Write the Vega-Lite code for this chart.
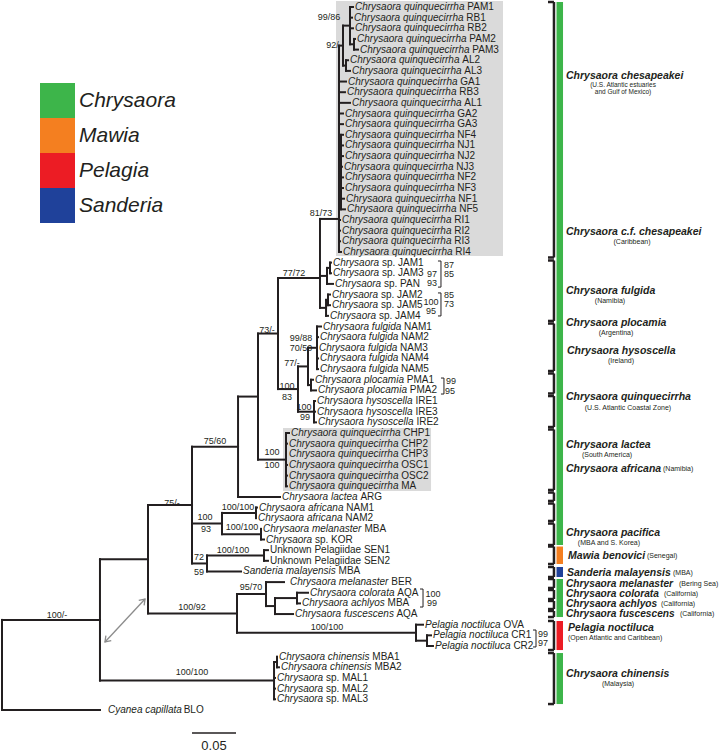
{
"$schema":"https://vega.github.io/schema/vega-lite/v6.json",
"width":720,"height":754,"autosize":"none","padding":0,"background":"white",
"config":{"view":{"stroke":null},"font":"Liberation Sans","text":{"font":"Liberation Sans","color":"#231f20","baseline":"middle"}},
"datasets":{
"boxes":[{"x":0.3818,"x2":0.5716,"y":-0.563,"y2":23.38},{"x":0.3216,"x2":0.4898,"y":39.53,"y2":45.45}],
"segs":[
{"x":0.0023,"x2":0.0023,"y":57.55,"y2":66},{"x":0.0023,"x2":0.1136,"y":57.55,"y2":57.55},{"x":0.0023,"x2":0.1136,"y":66,"y2":66},
{"x":0.1136,"x2":0.1136,"y":51.85,"y2":63.25},{"x":0.1136,"x2":0.1682,"y":51.85,"y2":51.85},{"x":0.1136,"x2":0.3114,"y":63.25,"y2":63.25},
{"x":0.3114,"x2":0.3114,"y":61.5,"y2":65},{"x":0.3114,"x2":0.3148,"y":61.5,"y2":61.5},{"x":0.3148,"x2":0.3148,"y":61,"y2":62},{"x":0.3148,"x2":0.3170,"y":62,"y2":62},
{"x":0.3114,"x2":0.3125,"y":63,"y2":63},{"x":0.3114,"x2":0.3125,"y":64,"y2":64},{"x":0.3114,"x2":0.3125,"y":65,"y2":65},
{"x":0.1682,"x2":0.1682,"y":46.77,"y2":56.94},{"x":0.1682,"x2":0.2693,"y":56.94,"y2":56.94},{"x":0.2693,"x2":0.2693,"y":55.125,"y2":58.75},
{"x":0.2693,"x2":0.3023,"y":55.125,"y2":55.125},{"x":0.3023,"x2":0.3023,"y":54,"y2":56.25},{"x":0.3023,"x2":0.3227,"y":54,"y2":54},
{"x":0.3023,"x2":0.3125,"y":56.25,"y2":56.25},{"x":0.3125,"x2":0.3125,"y":55.5,"y2":57},{"x":0.3125,"x2":0.3375,"y":55.5,"y2":55.5},
{"x":0.3375,"x2":0.3375,"y":55,"y2":56},{"x":0.3375,"x2":0.3500,"y":55,"y2":55},{"x":0.3375,"x2":0.3409,"y":56,"y2":56},{"x":0.3125,"x2":0.3330,"y":57,"y2":57},
{"x":0.2693,"x2":0.4727,"y":58.75,"y2":58.75},{"x":0.4727,"x2":0.4727,"y":58,"y2":59.5},{"x":0.4727,"x2":0.4807,"y":58,"y2":58},
{"x":0.4727,"x2":0.4852,"y":59.5,"y2":59.5},{"x":0.4852,"x2":0.4852,"y":59,"y2":60},{"x":0.4852,"x2":0.4898,"y":59,"y2":59},{"x":0.4852,"x2":0.4920,"y":60,"y2":60},
{"x":0.1682,"x2":0.2182,"y":46.77,"y2":46.77},{"x":0.2182,"x2":0.2182,"y":41.29,"y2":52.25},{"x":0.2182,"x2":0.2705,"y":41.29,"y2":41.29},
{"x":0.2182,"x2":0.2523,"y":48.5,"y2":48.5},{"x":0.2523,"x2":0.2523,"y":47.5,"y2":49.5},{"x":0.2523,"x2":0.2909,"y":47.5,"y2":47.5},
{"x":0.2909,"x2":0.2909,"y":47,"y2":48},{"x":0.2909,"x2":0.2920,"y":47,"y2":47},
{"x":0.2523,"x2":0.2966,"y":49.5,"y2":49.5},{"x":0.2966,"x2":0.2966,"y":49,"y2":50},{"x":0.2966,"x2":0.3000,"y":50,"y2":50},
{"x":0.2182,"x2":0.2352,"y":52.25,"y2":52.25},{"x":0.2352,"x2":0.2352,"y":51.5,"y2":53},{"x":0.2352,"x2":0.3000,"y":51.5,"y2":51.5},
{"x":0.3000,"x2":0.3000,"y":51,"y2":52},{"x":0.3000,"x2":0.3045,"y":51,"y2":51},{"x":0.3000,"x2":0.3045,"y":52,"y2":52},{"x":0.2352,"x2":0.2739,"y":53,"y2":53},
{"x":0.2705,"x2":0.2705,"y":36.58,"y2":46},{"x":0.2705,"x2":0.2932,"y":36.58,"y2":36.58},{"x":0.2705,"x2":0.3182,"y":46,"y2":46},
{"x":0.2932,"x2":0.2932,"y":30.66,"y2":42.5},{"x":0.2932,"x2":0.3250,"y":42.5,"y2":42.5},{"x":0.3250,"x2":0.3250,"y":40,"y2":45},
{"x":0.3250,"x2":0.3284,"y":40,"y2":40},{"x":0.3250,"x2":0.3261,"y":41,"y2":41},{"x":0.3250,"x2":0.3261,"y":43,"y2":43},{"x":0.3250,"x2":0.3261,"y":44,"y2":44},{"x":0.3250,"x2":0.3261,"y":45,"y2":45},
{"x":0.2932,"x2":0.3159,"y":30.66,"y2":30.66},{"x":0.3159,"x2":0.3159,"y":25.45,"y2":35.875},{"x":0.3159,"x2":0.3636,"y":25.45,"y2":25.45},
{"x":0.3159,"x2":0.3386,"y":35.875,"y2":35.875},{"x":0.3386,"x2":0.3386,"y":33.75,"y2":38},{"x":0.3386,"x2":0.3500,"y":33.75,"y2":33.75},
{"x":0.3500,"x2":0.3500,"y":32,"y2":35.5},{"x":0.3500,"x2":0.3602,"y":32,"y2":32},{"x":0.3602,"x2":0.3602,"y":30,"y2":34},
{"x":0.3602,"x2":0.3648,"y":30,"y2":30},{"x":0.3602,"x2":0.3614,"y":31,"y2":31},{"x":0.3602,"x2":0.3614,"y":33,"y2":33},{"x":0.3602,"x2":0.3614,"y":34,"y2":34},
{"x":0.3500,"x2":0.3534,"y":35.5,"y2":35.5},{"x":0.3534,"x2":0.3534,"y":35,"y2":36},{"x":0.3534,"x2":0.3557,"y":35,"y2":35},{"x":0.3534,"x2":0.3591,"y":36,"y2":36},
{"x":0.3386,"x2":0.3568,"y":38,"y2":38},{"x":0.3568,"x2":0.3568,"y":37,"y2":39},{"x":0.3568,"x2":0.3580,"y":37,"y2":37},{"x":0.3568,"x2":0.3580,"y":38,"y2":38},{"x":0.3568,"x2":0.3591,"y":39,"y2":39},
{"x":0.3636,"x2":0.3636,"y":19.9,"y2":28.25},{"x":0.3636,"x2":0.3716,"y":25.25,"y2":25.25},{"x":0.3716,"x2":0.3716,"y":24.5,"y2":26},
{"x":0.3716,"x2":0.3750,"y":24.5,"y2":24.5},{"x":0.3750,"x2":0.3750,"y":24,"y2":25},{"x":0.3750,"x2":0.3761,"y":24,"y2":24},{"x":0.3750,"x2":0.3761,"y":25,"y2":25},
{"x":0.3716,"x2":0.3784,"y":26,"y2":26},{"x":0.3636,"x2":0.3705,"y":28.25,"y2":28.25},{"x":0.3705,"x2":0.3705,"y":27.5,"y2":29},
{"x":0.3705,"x2":0.3727,"y":27.5,"y2":27.5},{"x":0.3727,"x2":0.3727,"y":27,"y2":28},{"x":0.3727,"x2":0.3750,"y":27,"y2":27},{"x":0.3727,"x2":0.3750,"y":28,"y2":28},
{"x":0.3705,"x2":0.3727,"y":29,"y2":29},
{"x":0.3636,"x2":0.3852,"y":19.9,"y2":19.9},{"x":0.3852,"x2":0.3852,"y":3.625,"y2":23},{"x":0.3852,"x2":0.3898,"y":3.625,"y2":3.625},
{"x":0.3898,"x2":0.3898,"y":1.75,"y2":5.5},{"x":0.3898,"x2":0.3977,"y":1.75,"y2":1.75},{"x":0.3977,"x2":0.3977,"y":0,"y2":3.5},
{"x":0.3977,"x2":0.4011,"y":0,"y2":0},{"x":0.3977,"x2":0.4000,"y":1,"y2":1},{"x":0.3977,"x2":0.4011,"y":2,"y2":2},
{"x":0.3977,"x2":0.4023,"y":3.5,"y2":3.5},{"x":0.4023,"x2":0.4023,"y":3,"y2":4},{"x":0.4023,"x2":0.4034,"y":3,"y2":3},{"x":0.4023,"x2":0.4068,"y":4,"y2":4},
{"x":0.3898,"x2":0.3932,"y":5.5,"y2":5.5},{"x":0.3932,"x2":0.3932,"y":5,"y2":6},{"x":0.3932,"x2":0.3955,"y":5,"y2":5},{"x":0.3932,"x2":0.3977,"y":6,"y2":6},
{"x":0.3852,"x2":0.3932,"y":7,"y2":7},{"x":0.3852,"x2":0.3920,"y":8,"y2":8},{"x":0.3852,"x2":0.3977,"y":9,"y2":9},{"x":0.3852,"x2":0.3898,"y":10,"y2":10},{"x":0.3852,"x2":0.3898,"y":11,"y2":11},
{"x":0.3852,"x2":0.3875,"y":15.5,"y2":15.5},{"x":0.3875,"x2":0.3875,"y":12,"y2":19},
{"x":0.3875,"x2":0.3898,"y":12,"y2":12},{"x":0.3875,"x2":0.3898,"y":13,"y2":13},{"x":0.3875,"x2":0.3898,"y":14,"y2":14},{"x":0.3875,"x2":0.3886,"y":15,"y2":15},
{"x":0.3875,"x2":0.3898,"y":16,"y2":16},{"x":0.3875,"x2":0.3898,"y":17,"y2":17},{"x":0.3875,"x2":0.3909,"y":18,"y2":18},{"x":0.3875,"x2":0.3920,"y":19,"y2":19},
{"x":0.3852,"x2":0.3864,"y":20,"y2":20},{"x":0.3852,"x2":0.3864,"y":21,"y2":21},{"x":0.3852,"x2":0.3864,"y":22,"y2":22},{"x":0.3852,"x2":0.3875,"y":23,"y2":23}
],
"bsegs":[
{"x":0.5011,"x2":0.5011,"y":23.85,"y2":26.3},{"x":0.4977,"x2":0.5011,"y":23.85,"y2":23.85},{"x":0.4977,"x2":0.5011,"y":26.3,"y2":26.3},
{"x":0.5011,"x2":0.5011,"y":26.85,"y2":29.01},{"x":0.4977,"x2":0.5011,"y":26.85,"y2":26.85},{"x":0.4977,"x2":0.5011,"y":29.01,"y2":29.01},
{"x":0.5045,"x2":0.5045,"y":34.84,"y2":36.34},{"x":0.5011,"x2":0.5045,"y":34.84,"y2":34.84},{"x":0.5011,"x2":0.5045,"y":36.34,"y2":36.34},
{"x":0.4807,"x2":0.4807,"y":54.65,"y2":56.34},{"x":0.4773,"x2":0.4807,"y":54.65,"y2":54.65},{"x":0.4773,"x2":0.4807,"y":56.34,"y2":56.34},
{"x":0.6091,"x2":0.6091,"y":58.5,"y2":60.09},{"x":0.6057,"x2":0.6091,"y":58.5,"y2":58.5},{"x":0.6057,"x2":0.6091,"y":60.09,"y2":60.09}
],
"rsegs":[
{"x":0.6295,"x2":0.6295,"y":-0.469,"y2":23.52},{"x":0.6227,"x2":0.6295,"y":-0.469,"y2":-0.469},{"x":0.6227,"x2":0.6295,"y":23.52,"y2":23.52},
{"x":0.6295,"x2":0.6295,"y":23.80,"y2":29.48},{"x":0.6227,"x2":0.6295,"y":23.80,"y2":23.80},{"x":0.6227,"x2":0.6295,"y":29.48,"y2":29.48},
{"x":0.6295,"x2":0.6295,"y":29.72,"y2":34.18},{"x":0.6227,"x2":0.6295,"y":29.72,"y2":29.72},{"x":0.6227,"x2":0.6295,"y":34.18,"y2":34.18},
{"x":0.6295,"x2":0.6295,"y":34.41,"y2":36.29},{"x":0.6227,"x2":0.6295,"y":34.41,"y2":34.41},{"x":0.6227,"x2":0.6295,"y":36.29,"y2":36.29},
{"x":0.6295,"x2":0.6295,"y":36.53,"y2":39.44},{"x":0.6227,"x2":0.6295,"y":36.53,"y2":36.53},{"x":0.6227,"x2":0.6295,"y":39.44,"y2":39.44},
{"x":0.6295,"x2":0.6295,"y":39.67,"y2":45.35},{"x":0.6227,"x2":0.6295,"y":39.67,"y2":39.67},{"x":0.6227,"x2":0.6295,"y":45.35,"y2":45.35},
{"x":0.6295,"x2":0.6295,"y":45.59,"y2":46.38},{"x":0.6227,"x2":0.6295,"y":45.59,"y2":45.59},{"x":0.6227,"x2":0.6295,"y":46.38,"y2":46.38},
{"x":0.6295,"x2":0.6295,"y":46.62,"y2":48.26},{"x":0.6227,"x2":0.6295,"y":46.62,"y2":46.62},{"x":0.6227,"x2":0.6295,"y":48.26,"y2":48.26},
{"x":0.6295,"x2":0.6295,"y":48.50,"y2":50.52},{"x":0.6227,"x2":0.6295,"y":48.50,"y2":48.50},{"x":0.6227,"x2":0.6295,"y":50.52,"y2":50.52},
{"x":0.6295,"x2":0.6295,"y":50.66,"y2":52.30},{"x":0.6227,"x2":0.6295,"y":50.66,"y2":50.66},{"x":0.6227,"x2":0.6295,"y":52.30,"y2":52.30},
{"x":0.6295,"x2":0.6295,"y":52.58,"y2":53.52},{"x":0.6227,"x2":0.6295,"y":52.58,"y2":52.58},{"x":0.6227,"x2":0.6295,"y":53.52,"y2":53.52},
{"x":0.6295,"x2":0.6295,"y":53.71,"y2":54.55},{"x":0.6227,"x2":0.6295,"y":53.71,"y2":53.71},{"x":0.6227,"x2":0.6295,"y":54.55,"y2":54.55},
{"x":0.6295,"x2":0.6295,"y":54.74,"y2":55.59},{"x":0.6227,"x2":0.6295,"y":54.74,"y2":54.74},{"x":0.6227,"x2":0.6295,"y":55.59,"y2":55.59},
{"x":0.6295,"x2":0.6295,"y":55.77,"y2":56.53},{"x":0.6227,"x2":0.6295,"y":55.77,"y2":55.77},{"x":0.6227,"x2":0.6295,"y":56.53,"y2":56.53},
{"x":0.6295,"x2":0.6295,"y":56.71,"y2":57.28},{"x":0.6227,"x2":0.6295,"y":56.71,"y2":56.71},{"x":0.6227,"x2":0.6295,"y":57.28,"y2":57.28},
{"x":0.6295,"x2":0.6295,"y":57.65,"y2":60.38},{"x":0.6227,"x2":0.6295,"y":57.65,"y2":57.65},{"x":0.6227,"x2":0.6295,"y":60.38,"y2":60.38},
{"x":0.6295,"x2":0.6295,"y":60.66,"y2":65.45},{"x":0.6227,"x2":0.6295,"y":60.66,"y2":60.66},{"x":0.6227,"x2":0.6295,"y":65.45,"y2":65.45}
],
"bars":[
{"x":0.6324,"x2":0.6398,"y":-0.469,"y2":50.52,"genus":"Chrysaora"},
{"x":0.6324,"x2":0.6398,"y":50.66,"y2":52.30,"genus":"Mawia"},
{"x":0.6324,"x2":0.6398,"y":52.58,"y2":53.52,"genus":"Sanderia"},
{"x":0.6324,"x2":0.6398,"y":53.71,"y2":57.28,"genus":"Chrysaora"},
{"x":0.6324,"x2":0.6398,"y":57.65,"y2":60.38,"genus":"Pelagia"},
{"x":0.6324,"x2":0.6398,"y":60.66,"y2":65.45,"genus":"Chrysaora"}
],
"leaves":[
{"y":0,"x":0.4034,"sp":"Chrysaora quinquecirrha","code":"PAM1"},
{"y":1,"x":0.4023,"sp":"Chrysaora quinquecirrha","code":"RB1"},
{"y":2,"x":0.4034,"sp":"Chrysaora quinquecirrha","code":"RB2"},
{"y":3,"x":0.4057,"sp":"Chrysaora quinquecirrha","code":"PAM2"},
{"y":4,"x":0.4091,"sp":"Chrysaora quinquecirrha","code":"PAM3"},
{"y":5,"x":0.3977,"sp":"Chrysaora quinquecirrha","code":"AL2"},
{"y":6,"x":0.4000,"sp":"Chrysaora quinquecirrha","code":"AL3"},
{"y":7,"x":0.3955,"sp":"Chrysaora quinquecirrha","code":"GA1"},
{"y":8,"x":0.3943,"sp":"Chrysaora quinquecirrha","code":"RB3"},
{"y":9,"x":0.4000,"sp":"Chrysaora quinquecirrha","code":"AL1"},
{"y":10,"x":0.3920,"sp":"Chrysaora quinquecirrha","code":"GA2"},
{"y":11,"x":0.3920,"sp":"Chrysaora quinquecirrha","code":"GA3"},
{"y":12,"x":0.3920,"sp":"Chrysaora quinquecirrha","code":"NF4"},
{"y":13,"x":0.3920,"sp":"Chrysaora quinquecirrha","code":"NJ1"},
{"y":14,"x":0.3920,"sp":"Chrysaora quinquecirrha","code":"NJ2"},
{"y":15,"x":0.3909,"sp":"Chrysaora quinquecirrha","code":"NJ3"},
{"y":16,"x":0.3920,"sp":"Chrysaora quinquecirrha","code":"NF2"},
{"y":17,"x":0.3920,"sp":"Chrysaora quinquecirrha","code":"NF3"},
{"y":18,"x":0.3932,"sp":"Chrysaora quinquecirrha","code":"NF1"},
{"y":19,"x":0.3943,"sp":"Chrysaora quinquecirrha","code":"NF5"},
{"y":20,"x":0.3886,"sp":"Chrysaora quinquecirrha","code":"RI1"},
{"y":21,"x":0.3886,"sp":"Chrysaora quinquecirrha","code":"RI2"},
{"y":22,"x":0.3886,"sp":"Chrysaora quinquecirrha","code":"RI3"},
{"y":23,"x":0.3898,"sp":"Chrysaora quinquecirrha","code":"RI4"},
{"y":24,"x":0.3784,"sp":"Chrysaora","code":"sp. JAM1"},
{"y":25,"x":0.3784,"sp":"Chrysaora","code":"sp. JAM3"},
{"y":26,"x":0.3807,"sp":"Chrysaora","code":"sp. PAN"},
{"y":27,"x":0.3773,"sp":"Chrysaora","code":"sp. JAM2"},
{"y":28,"x":0.3773,"sp":"Chrysaora","code":"sp. JAM5"},
{"y":29,"x":0.3750,"sp":"Chrysaora","code":"sp. JAM4"},
{"y":30,"x":0.3670,"sp":"Chrysaora fulgida","code":"NAM1"},
{"y":31,"x":0.3636,"sp":"Chrysaora fulgida","code":"NAM2"},
{"y":32,"x":0.3625,"sp":"Chrysaora fulgida","code":"NAM3"},
{"y":33,"x":0.3636,"sp":"Chrysaora fulgida","code":"NAM4"},
{"y":34,"x":0.3636,"sp":"Chrysaora fulgida","code":"NAM5"},
{"y":35,"x":0.3580,"sp":"Chrysaora plocamia","code":"PMA1"},
{"y":36,"x":0.3614,"sp":"Chrysaora plocamia","code":"PMA2"},
{"y":37,"x":0.3602,"sp":"Chrysaora hysoscella","code":"IRE1"},
{"y":38,"x":0.3602,"sp":"Chrysaora hysoscella","code":"IRE3"},
{"y":39,"x":0.3614,"sp":"Chrysaora hysoscella","code":"IRE2"},
{"y":40,"x":0.3307,"sp":"Chrysaora quinquecirrha","code":"CHP1"},
{"y":41,"x":0.3284,"sp":"Chrysaora quinquecirrha","code":"CHP2"},
{"y":42,"x":0.3284,"sp":"Chrysaora quinquecirrha","code":"CHP3"},
{"y":43,"x":0.3284,"sp":"Chrysaora quinquecirrha","code":"OSC1"},
{"y":44,"x":0.3284,"sp":"Chrysaora quinquecirrha","code":"OSC2"},
{"y":45,"x":0.3284,"sp":"Chrysaora quinquecirrha","code":"MA"},
{"y":46,"x":0.3205,"sp":"Chrysaora lactea","code":"ARG"},
{"y":47,"x":0.2943,"sp":"Chrysaora africana","code":"NAM1"},
{"y":48,"x":0.2932,"sp":"Chrysaora africana","code":"NAM2"},
{"y":49,"x":0.2989,"sp":"Chrysaora melanaster","code":"MBA"},
{"y":50,"x":0.3023,"sp":"Chrysaora","code":"sp. KOR"},
{"y":51,"x":0.3068,"sp":"Unknown Pelagiidae","code":"SEN1"},
{"y":52,"x":0.3068,"sp":"Unknown Pelagiidae","code":"SEN2"},
{"y":53,"x":0.2761,"sp":"Sanderia malayensis","code":"MBA"},
{"y":54,"x":0.3295,"sp":"Chrysaora melanaster","code":"BER"},
{"y":55,"x":0.3523,"sp":"Chrysaora colorata","code":"AQA"},
{"y":56,"x":0.3432,"sp":"Chrysaora achlyos","code":"MBA"},
{"y":57,"x":0.3352,"sp":"Chrysaora fuscescens","code":"AQA"},
{"y":58,"x":0.4830,"sp":"Pelagia noctiluca","code":"OVA"},
{"y":59,"x":0.4920,"sp":"Pelagia noctiluca","code":"CR1"},
{"y":60,"x":0.4943,"sp":"Pelagia noctiluca","code":"CR2"},
{"y":61,"x":0.3170,"sp":"Chrysaora chinensis","code":"MBA1"},
{"y":62,"x":0.3193,"sp":"Chrysaora chinensis","code":"MBA2"},
{"y":63,"x":0.3148,"sp":"Chrysaora","code":"sp. MAL1"},
{"y":64,"x":0.3148,"sp":"Chrysaora","code":"sp. MAL2"},
{"y":65,"x":0.3148,"sp":"Chrysaora","code":"sp. MAL3"},
{"y":66,"x":0.1227,"sp":"Cyanea capillata","code":"BLO"}
],
"sup":[
{"x":0.3739,"y":0.94,"t":"99/86"},{"x":0.3795,"y":3.57,"t":"92/-"},{"x":0.3648,"y":19.34,"t":"81/73"},{"x":0.3341,"y":24.95,"t":"77/72"},
{"x":0.3034,"y":30.33,"t":"73/-"},{"x":0.3420,"y":31.08,"t":"99/88"},{"x":0.3420,"y":32.02,"t":"70/50"},{"x":0.3318,"y":33.43,"t":"77/-"},
{"x":0.3261,"y":35.59,"t":"100"},{"x":0.3261,"y":36.62,"t":"83"},{"x":0.3455,"y":37.56,"t":"100"},{"x":0.3466,"y":38.50,"t":"99"},
{"x":0.3091,"y":41.83,"t":"100"},{"x":0.3091,"y":43.05,"t":"100"},{"x":0.2443,"y":40.75,"t":"75/60"},{"x":0.1955,"y":46.57,"t":"75/-"},
{"x":0.2705,"y":46.95,"t":"100/100"},{"x":0.2330,"y":47.89,"t":"100"},{"x":0.2341,"y":49.01,"t":"93"},{"x":0.2750,"y":48.83,"t":"100/100"},
{"x":0.2648,"y":50.99,"t":"100/100"},{"x":0.2261,"y":51.64,"t":"72"},{"x":0.2261,"y":53.05,"t":"59"},{"x":0.2852,"y":54.46,"t":"95/70"},
{"x":0.2182,"y":56.34,"t":"100/92"},{"x":0.3716,"y":58.22,"t":"100/100"},{"x":0.0648,"y":57.09,"t":"100/-"},{"x":0.2182,"y":62.44,"t":"100/100"},
{"x":0.4909,"y":25.07,"t":"97"},{"x":0.4909,"y":25.92,"t":"93"},{"x":0.5102,"y":24.23,"t":"87"},{"x":0.5102,"y":25.07,"t":"85"},
{"x":0.4898,"y":27.70,"t":"100"},{"x":0.4898,"y":28.54,"t":"95"},{"x":0.5102,"y":27.04,"t":"85"},{"x":0.5102,"y":27.89,"t":"73"},
{"x":0.5125,"y":35.12,"t":"99"},{"x":0.5114,"y":36.06,"t":"95"},{"x":0.4920,"y":55.12,"t":"100"},{"x":0.4909,"y":55.96,"t":"99"},
{"x":0.6170,"y":58.87,"t":"99"},{"x":0.6170,"y":59.72,"t":"97"}
],
"rl":[
{"x":0.6432,"y":6.479,"t":"Chrysaora chesapeakei"},{"x":0.6432,"y":21.127,"t":"Chrysaora c.f. chesapeakei"},
{"x":0.6432,"y":26.667,"t":"Chrysaora fulgida"},{"x":0.6432,"y":29.671,"t":"Chrysaora plocamia"},
{"x":0.6443,"y":32.300,"t":"Chrysaora hysoscella"},{"x":0.6432,"y":36.620,"t":"Chrysaora quinquecirrha"},
{"x":0.6432,"y":41.127,"t":"Chrysaora lactea"},{"x":0.6432,"y":43.380,"t":"Chrysaora africana"},
{"x":0.6432,"y":49.390,"t":"Chrysaora pacifica"},{"x":0.6455,"y":51.549,"t":"Mawia benovici"},
{"x":0.6443,"y":53.146,"t":"Sanderia malayensis"},{"x":0.6455,"y":58.310,"t":"Pelagia noctiluca"},
{"x":0.6432,"y":62.629,"t":"Chrysaora chinensis"}
],
"rlTight":[
{"x":0.6432,"y":54.178,"t":"Chrysaora melanaster"},{"x":0.6432,"y":55.117,"t":"Chrysaora colorata"},
{"x":0.6432,"y":56.056,"t":"Chrysaora achlyos"},{"x":0.6432,"y":56.995,"t":"Chrysaora fuscescens"}
],
"slc":[
{"x":0.7182,"y":22.066,"t":"(Caribbean)"},{"x":0.6932,"y":27.606,"t":"(Namibia)"},{"x":0.7000,"y":30.610,"t":"(Argentina)"},
{"x":0.7057,"y":33.239,"t":"(Ireland)"},{"x":0.7136,"y":37.653,"t":"(U.S. Atlantic Coastal Zone)"},{"x":0.6898,"y":42.066,"t":"(South America)"},
{"x":0.6920,"y":50.329,"t":"(MBA and S. Korea)"},{"x":0.7023,"y":63.568,"t":"(Malaysia)"}
],
"slc2":[{"x":0.7080,"y":7.324,"t":"(U.S. Atlantic estuaries"},{"x":0.7080,"y":8.028,"t":"and Gulf of Mexico)"}],
"sll":[
{"x":0.7534,"y":43.380,"t":"(Namibia)"},{"x":0.7352,"y":51.549,"t":"(Senegal)"},{"x":0.7648,"y":53.146,"t":"(MBA)"},
{"x":0.7716,"y":54.178,"t":"(Bering Sea)"},{"x":0.7545,"y":55.117,"t":"(California)"},{"x":0.7511,"y":56.056,"t":"(California)"},
{"x":0.7727,"y":56.995,"t":"(California)"},{"x":0.6455,"y":59.249,"t":"(Open Atlantic and Caribbean)"}
],
"arrow":[{"x":0.1193,"y":59.624,"x2":0.1648,"y2":55.587}],
"ahUp":[{"x":0.1648,"y":55.587}],
"ahDown":[{"x":0.1193,"y":59.624}],
"sbar":[{"x":0.2182,"x2":0.2682,"y":68.17}],
"sbarText":[{"x":0.2432,"y":69.4,"t":"0.05"}]
},
"encoding":{
"x":{"field":"x","type":"quantitative","scale":{"domain":[0,0.81818],"nice":false,"zero":false},"axis":null},
"y":{"field":"y","type":"quantitative","scale":{"domain":[-0.6573,70.1408],"reverse":true,"nice":false,"zero":false},"axis":null}
},
"layer":[
{"data":{"name":"boxes"},"mark":{"type":"rect","color":"#dadada"},"encoding":{"x2":{"field":"x2"},"y2":{"field":"y2"}}},
{"data":{"name":"segs"},"mark":{"type":"rule","color":"#231f20","strokeWidth":2,"strokeCap":"square"},"encoding":{"x2":{"field":"x2"},"y2":{"field":"y2"}}},
{"data":{"name":"bsegs"},"mark":{"type":"rule","color":"#231f20","strokeWidth":1},"encoding":{"x2":{"field":"x2"},"y2":{"field":"y2"}}},
{"data":{"name":"rsegs"},"mark":{"type":"rule","color":"#231f20","strokeWidth":2.5},"encoding":{"x2":{"field":"x2"},"y2":{"field":"y2"}}},
{"data":{"name":"bars"},"mark":{"type":"rect"},"encoding":{"x2":{"field":"x2"},"y2":{"field":"y2"},
 "color":{"field":"genus","type":"nominal","scale":{"domain":["Chrysaora","Mawia","Pelagia","Sanderia"],"range":["#3db54a","#f47f20","#ec1c24","#1f419a"]},
 "legend":{"orient":"none","legendX":40,"legendY":83,"title":null,"symbolType":"square","symbolSize":1225,"symbolStrokeWidth":0,"symbolOpacity":1,"labelFontSize":21,"labelFontStyle":"italic","labelFont":"Liberation Sans","labelColor":"#231f20","rowPadding":0,"labelOffset":4,"padding":0}}}},
{"data":{"name":"arrow"},"mark":{"type":"rule","color":"#8c8c8c","strokeWidth":1.3},"encoding":{"x2":{"field":"x2"},"y2":{"field":"y2"}}},
{"data":{"name":"ahUp"},"mark":{"type":"point","shape":"M-0.7,1L0,0L0.7,1","filled":false,"color":"#8c8c8c","strokeWidth":1.3,"size":110,"angle":43,"opacity":1}},
{"data":{"name":"ahDown"},"mark":{"type":"point","shape":"M-0.7,1L0,0L0.7,1","filled":false,"color":"#8c8c8c","strokeWidth":1.3,"size":110,"angle":223,"opacity":1}},
{"data":{"name":"sbar"},"mark":{"type":"rule","color":"#231f20","strokeWidth":1.6},"encoding":{"x2":{"field":"x2"}}},
{"data":{"name":"sbarText"},"mark":{"type":"text","fontSize":13,"align":"center"},"encoding":{"text":{"field":"t"}}},
{"data":{"name":"leaves"},"transform":[{"filter":"datum.sp !== 'Unknown Pelagiidae'"}],"mark":{"type":"text","align":"left","fontSize":10,"fontStyle":"italic"},"encoding":{"text":{"field":"sp"}}},
{"data":{"name":"leaves"},"transform":[{"filter":"datum.sp === 'Unknown Pelagiidae'"}],"mark":{"type":"text","align":"left","fontSize":10},"encoding":{"text":{"field":"sp"}}},
{"data":{"name":"leaves"},"transform":[{"filter":{"field":"sp","oneOf":["Unknown Pelagiidae"]}}],"mark":{"type":"text","align":"left","fontSize":10,"dx":93.9},"encoding":{"text":{"field":"code"}}},
{"data":{"name":"leaves"},"transform":[{"filter":{"field":"sp","oneOf":["Chrysaora quinquecirrha"]}}],"mark":{"type":"text","align":"left","fontSize":10,"dx":112.3},"encoding":{"text":{"field":"code"}}},
{"data":{"name":"leaves"},"transform":[{"filter":{"field":"sp","oneOf":["Chrysaora"]}}],"mark":{"type":"text","align":"left","fontSize":10,"dx":48.9},"encoding":{"text":{"field":"code"}}},
{"data":{"name":"leaves"},"transform":[{"filter":{"field":"sp","oneOf":["Chrysaora fulgida"]}}],"mark":{"type":"text","align":"left","fontSize":10,"dx":81.1},"encoding":{"text":{"field":"code"}}},
{"data":{"name":"leaves"},"transform":[{"filter":{"field":"sp","oneOf":["Chrysaora plocamia"]}}],"mark":{"type":"text","align":"left","fontSize":10,"dx":91.7},"encoding":{"text":{"field":"code"}}},
{"data":{"name":"leaves"},"transform":[{"filter":{"field":"sp","oneOf":["Chrysaora hysoscella"]}}],"mark":{"type":"text","align":"left","fontSize":10,"dx":98.4},"encoding":{"text":{"field":"code"}}},
{"data":{"name":"leaves"},"transform":[{"filter":{"field":"sp","oneOf":["Chrysaora lactea","Pelagia noctiluca"]}}],"mark":{"type":"text","align":"left","fontSize":10,"dx":78.4},"encoding":{"text":{"field":"code"}}},
{"data":{"name":"leaves"},"transform":[{"filter":{"field":"sp","oneOf":["Chrysaora africana","Chrysaora colorata"]}}],"mark":{"type":"text","align":"left","fontSize":10,"dx":87.3},"encoding":{"text":{"field":"code"}}},
{"data":{"name":"leaves"},"transform":[{"filter":{"field":"sp","oneOf":["Chrysaora melanaster","Chrysaora fuscescens"]}}],"mark":{"type":"text","align":"left","fontSize":10,"dx":101.4},"encoding":{"text":{"field":"code"}}},
{"data":{"name":"leaves"},"transform":[{"filter":{"field":"sp","oneOf":["Sanderia malayensis"]}}],"mark":{"type":"text","align":"left","fontSize":10,"dx":95.6},"encoding":{"text":{"field":"code"}}},
{"data":{"name":"leaves"},"transform":[{"filter":{"field":"sp","oneOf":["Chrysaora achlyos"]}}],"mark":{"type":"text","align":"left","fontSize":10,"dx":85.6},"encoding":{"text":{"field":"code"}}},
{"data":{"name":"leaves"},"transform":[{"filter":{"field":"sp","oneOf":["Chrysaora chinensis"]}}],"mark":{"type":"text","align":"left","fontSize":10,"dx":93.4},"encoding":{"text":{"field":"code"}}},
{"data":{"name":"leaves"},"transform":[{"filter":{"field":"sp","oneOf":["Cyanea capillata"]}}],"mark":{"type":"text","align":"left","fontSize":10,"dx":75.7},"encoding":{"text":{"field":"code"}}},
{"data":{"name":"sup"},"mark":{"type":"text","align":"center","fontSize":9},"encoding":{"text":{"field":"t"}}},
{"data":{"name":"rl"},"mark":{"type":"text","align":"left","fontSize":10.5,"fontStyle":"italic","fontWeight":"bold"},"encoding":{"text":{"field":"t"}}},
{"data":{"name":"rlTight"},"mark":{"type":"text","align":"left","fontSize":10.2,"fontStyle":"italic","fontWeight":"bold","lineHeight":9},"encoding":{"text":{"field":"t"}}},
{"data":{"name":"slc"},"mark":{"type":"text","align":"center","fontSize":7},"encoding":{"text":{"field":"t"}}},
{"data":{"name":"slc2"},"mark":{"type":"text","align":"center","fontSize":6.5},"encoding":{"text":{"field":"t"}}},
{"data":{"name":"sll"},"mark":{"type":"text","align":"left","fontSize":7},"encoding":{"text":{"field":"t"}}}
]
}
